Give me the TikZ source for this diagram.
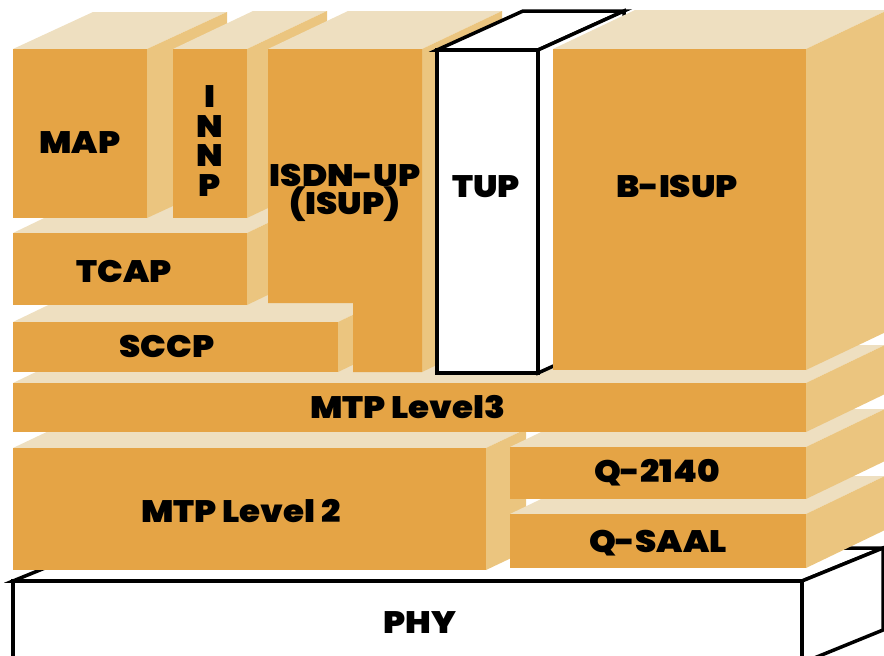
\documentclass[tikz,border=0pt]{standalone}
\usepackage{fontspec}
\setmainfont{Poppins}[BoldFont={Poppins Black},BoldFeatures={FakeStretch=1.1}]
\definecolor{ofront}{HTML}{E5A445}
\definecolor{oside}{HTML}{EBC57F}
\definecolor{otop}{HTML}{EEDFC0}
\newcommand\obox[6]{%
  \fill[otop] (#1,#2) -- ++(#5,#6) -- ++({#3-#1},0) -- (#3,#2) -- cycle;
  \fill[oside] (#3,#2) -- ++(#5,#6) -- ++(0,{#4-#2}) -- (#3,#4) -- cycle;
  \fill[ofront] (#1,#2) rectangle (#3,#4);}
\newcommand\wbox[6]{%
  \filldraw[wline] (#1,#2) -- ++(#5,#6) -- ++({#3-#1},0) -- (#3,#2) -- cycle;
  \filldraw[wline] (#3,#2) -- ++(#5,#6) -- ++(0,{#4-#2}) -- (#3,#4) -- cycle;
  \filldraw[wline] (#1,#2) rectangle (#3,#4);}
\begin{document}
\begin{tikzpicture}[x=1pt,y=-1pt,
  lbl/.style={font=\fontsize{31}{31}\selectfont\bfseries, inner sep=0pt, anchor=base},
  wline/.style={fill=white, draw=black, line width=3.5pt}]
\useasboundingbox (0,0) rectangle (884,656);
\clip (0,0) rectangle (884,656);
% PHY
\wbox{13}{581}{802}{663}{81}{-33}
% MTP Level 2 (shallow side face)
\fill[otop] (13,448) -- ++(80,-38) -- ++(473,0) -- (486,448) -- cycle;
\fill[oside] (486,448) -- ++(40,-19) -- ++(0,122) -- (486,570) -- cycle;
\fill[ofront] (13,448) rectangle (486,570);
% Q-SAAL, Q-2140, MTP Level3
\obox{510}{514}{806}{568}{79}{-38}
\obox{510}{447}{806}{499}{79}{-38}
\obox{13}{383}{806}{432}{79}{-38}
% SCCP, TCAP, MAP, INNP
\obox{13}{322}{338}{372}{79}{-38}
\obox{13}{233}{247}{305}{79}{-38}
\obox{13}{49}{147}{218}{80}{-37}
\obox{173}{49}{247}{218}{80}{-38}
% ISDN-UP (ISUP)
\fill[otop] (268,49) -- ++(80,-38) -- ++(154,0) -- (422,49) -- cycle;
\fill[oside] (422,49) -- ++(80,-38) -- ++(0,323) -- (422,372) -- cycle;
\fill[ofront] (268,49) -- (422,49) -- (422,372) -- (353,372) -- (353,303) -- (268,303) -- cycle;
% TUP
\wbox{437}{50}{538}{373}{86}{-39}
% B-ISUP
\obox{553}{49}{806}{370}{82}{-39}
% labels
\node[lbl] (map) at (80,153) {MAP};
\node[lbl] (innp1) at (210,107) {I};
\node[lbl] (innp2) at (210,137) {N};
\node[lbl] (innp3) at (210,166) {N};
\node[lbl] (innp4) at (210,196) {P};
\node[lbl] (isdn) at (345,186) {ISDN-UP};
\node[lbl] (isup) at (345,214) {(ISUP)};
\node[lbl] (tup) at (486,197) {TUP};
\node[lbl] (bisup) at (677,197) {B-ISUP};
\node[lbl] (tcap) at (124,282) {TCAP};
\node[lbl] (sccp) at (167,357) {SCCP};
\node[lbl] (mtp3) at (408,418) {MTP Level3};
\node[lbl] (q2140) at (657,482) {Q-2140};
\node[lbl] (mtp2) at (241,522) {MTP Level 2};
\node[lbl] (qsaal) at (658,552) {Q-SAAL};
\node[lbl] (phy) at (420,633) {PHY};
\end{tikzpicture}
\end{document}
